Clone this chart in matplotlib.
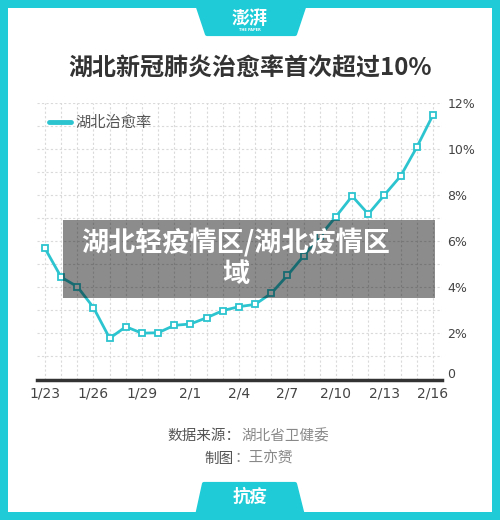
import numpy as np
import matplotlib
matplotlib.use("Agg")
import matplotlib.pyplot as plt
from matplotlib.patches import Rectangle, Polygon
from matplotlib.lines import Line2D
from matplotlib.transforms import ScaledTranslation

plt.rcParams["font.family"] = ["Noto Sans CJK SC", "DejaVu Sans"]

# data (cure rate, %)
dates = ["1/23", "1/24", "1/25", "1/26", "1/27", "1/28", "1/29", "1/30", "1/31",
         "2/1", "2/2", "2/3", "2/4", "2/5", "2/6", "2/7", "2/8", "2/9", "2/10",
         "2/11", "2/12", "2/13", "2/14", "2/15", "2/16"]
cure_rate = [5.69, 4.44, 4.03, 3.12, 1.79, 2.29, 2.01, 2.03, 2.35, 2.41, 2.68,
             2.99, 3.16, 3.26, 3.74, 4.52, 5.36, 6.22, 7.07, 7.96, 7.18, 8.01,
             8.83, 10.08, 11.48]
label_dates = ["1/23", "1/26", "1/29", "2/1", "2/4", "2/7", "2/10", "2/13", "2/16"]
y_ticks = [0, 2, 4, 6, 8, 10, 12]
y_tick_labels = ["0", "2%", "4%", "6%", "8%", "10%", "12%"]

TEAL = "#1ecbd6"
LINE = "#2cc4cf"
W, H = 500, 520


def fx(x):
    return x / W


def fy(y):
    return 1 - y / H


fig = plt.figure(figsize=(5, 5.2), dpi=100)
fig.patch.set_facecolor(TEAL)

# white card
fig.patches.append(Rectangle((fx(8), fy(512)), (492 - 8) / W, (512 - 8) / H,
                             transform=fig.transFigure, facecolor="white",
                             edgecolor="none", zorder=-2))
# top and bottom tabs
fig.patches.append(Polygon([(fx(197), fy(4)), (fx(305), fy(4)), (fx(295), fy(34)), (fx(207), fy(34))],
                           closed=True, transform=fig.transFigure, facecolor=TEAL,
                           edgecolor=TEAL, lw=3, joinstyle="round", zorder=-1))
fig.patches.append(Polygon([(fx(204), fy(484)), (fx(295), fy(484)), (fx(303), fy(516)), (fx(197), fy(516))],
                           closed=True, transform=fig.transFigure, facecolor=TEAL,
                           edgecolor=TEAL, lw=3, joinstyle="round", zorder=-1))

fig.text(fx(250), fy(18), "澎湃", color="white", fontsize=13, fontweight="bold",
         style="italic", ha="center", va="center")
fig.text(fx(250), fy(30), "THE PAPER", color="white", fontsize=2.5, fontweight="bold",
         ha="center", va="center", family="DejaVu Sans")
fig.text(fx(250), fy(497), "抗疫", color="white", fontsize=12.5, fontweight="bold",
         ha="center", va="center")

fig.text(fx(250), fy(69), "湖北新冠肺炎治愈率首次超过10%", color="#333333",
         fontsize=17.3, fontweight="bold", ha="center", va="center")

# plot area
ax = fig.add_axes([fx(37), fy(379.5), (442 - 37) / W, (379.5 - 103) / H])
ax.set_zorder(2)
ax.set_facecolor("none")
x = np.arange(len(dates))
ax.plot(x, cure_rate, color=LINE, lw=2, marker="s", ms=5, mfc="white",
        mec=LINE, mew=1.3, clip_on=False, zorder=3)

ax.set_xlim(-0.495, 24.56)
ax.set_ylim(0, 12)

ax.set_xticks([dates.index(d) for d in label_dates])
ax.set_xticklabels(label_dates)
ax.set_xticks(x, minor=True)
ax.yaxis.tick_right()
ax.set_yticks(y_ticks)
ax.set_yticklabels(y_tick_labels)
ax.set_yticks(np.arange(0, 13, 1), minor=True)

ax.grid(which="both", color="#dadada", lw=0.8, ls=(0, (2, 2)))
ax.set_axisbelow(True)
for s in ["top", "left", "right"]:
    ax.spines[s].set_visible(False)
ax.spines["bottom"].set_color("#333333")
ax.spines["bottom"].set_linewidth(2.5)
ax.tick_params(axis="x", which="both", length=0, pad=5, labelsize=10, labelcolor="#444444")
ax.tick_params(axis="y", which="both", length=0, pad=4, labelsize=9, labelcolor="#444444")
for lab in ax.get_xticklabels() + ax.get_yticklabels():
    lab.set_family("DejaVu Sans")
zero_lab = ax.get_yticklabels()[0]
zero_lab.set_transform(zero_lab.get_transform() + ScaledTranslation(0, 0.07, fig.dpi_scale_trans))

handle = Line2D([], [], color=LINE, lw=3.5, solid_capstyle="round")
ax.legend(handles=[handle], labels=["湖北治愈率"], loc="upper left",
          bbox_to_anchor=(fx(49), fy(114)), bbox_transform=fig.transFigure,
          frameon=False, fontsize=11, handlelength=1.45, handletextpad=0.3,
          borderpad=0, borderaxespad=0, labelcolor="#555555")

# grey overlay banner
fig.patches.append(Rectangle((fx(63), fy(298)), (435 - 63) / W, (298 - 220) / H,
                             transform=fig.transFigure, facecolor="black",
                             alpha=0.45, edgecolor="none", zorder=5))
fig.text(fx(236), fy(242), "湖北轻疫情区/湖北疫情区", color="white", fontsize=19.5,
         fontweight="bold", ha="center", va="center", zorder=6)
fig.text(fx(236), fy(274), "域", color="white", fontsize=19.5,
         fontweight="bold", ha="center", va="center", zorder=6)

# footer
fig.text(fx(241), fy(436), "数据来源：", color="#555555", fontsize=10.5, ha="right", va="center")
fig.text(fx(241), fy(436), "湖北省卫健委", color="#888888", fontsize=10.5, ha="left", va="center")
fig.text(fx(234), fy(459), "制图", color="#555555", fontsize=10.5, ha="right", va="center")
fig.text(fx(234), fy(459), "：王亦赟", color="#888888", fontsize=10.5, ha="left", va="center")

fig.savefig("out.png", dpi=100, facecolor=fig.get_facecolor())
